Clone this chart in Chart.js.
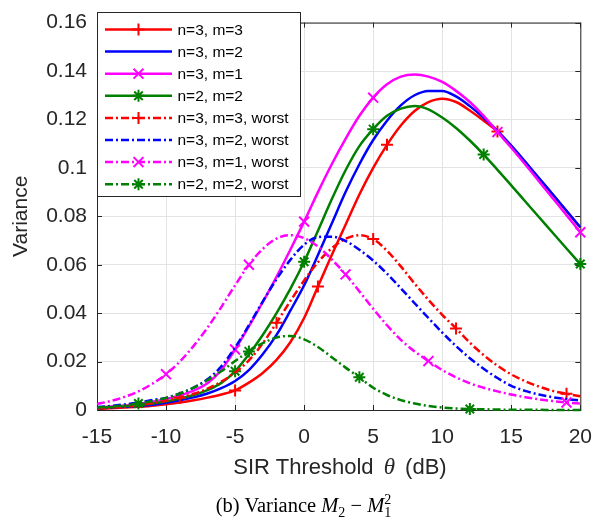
<!DOCTYPE html>
<html>
<head>
<meta charset="utf-8">
<script src="https://cdn.jsdelivr.net/npm/chart.js@4.4.0/dist/chart.umd.min.js"></script>
<style>
  html, body { margin: 0; padding: 0; background: #fff; }
  #wrap { position: relative; width: 607px; height: 521px; }
  #chart { position: absolute; left: 0; top: 0; }
  .xtitle { position: absolute; left: 97px; width: 486px; top: 454px; text-align: center;
    font: 22px "Liberation Sans", Arial, sans-serif; color: #262626; line-height: 26px; }
  .xtitle i { font-family: "Liberation Serif", "Times New Roman", serif; font-size: 23px; margin: 0 4px; }
  .caption { position: absolute; left: 0; width: 607px; top: 492px; text-align: center;
    font: 20.5px "Liberation Serif", "Times New Roman", serif; color: #000; line-height: 26px; }
  .caption i { font-style: italic; }
  .caption .sb { font-size: 14px; position: relative; top: 5px; }
  .caption .stk { display: inline-block; vertical-align: middle; font-size: 14px; line-height: 13px; text-align: left; position: relative; top: -1px; }
</style>
</head>
<body>
<div id="wrap">
  <canvas id="chart" width="607" height="521"></canvas>
  <div class="xtitle">SIR Threshold <i>θ</i> (dB)</div>
  <div class="caption">(b) Variance <i>M</i><span class="sb">2</span> − <i>M</i><span class="stk">2<br>1</span></div>
</div>
<script>
// SIR threshold grid (dB)
const theta = [-15, -14, -13, -12, -11, -10, -9, -8, -7, -6, -5, -4, -3, -2, -1, 0, 1, 2,
  3, 4, 5, 6, 7, 8, 9, 10, 11, 12, 13, 14, 15, 16, 17, 18, 19, 20];

// variance curves
const var33 = [.0005, .0007, .0010, .0013, .0018, .0024, .0031, .0040, .0051, .0064, .0081, .0113, .0153, .0207, .0280, .0380, .0510, .0640,
  .0765, .0890, .1000, .1095, .1175, .1235, .1272, .1286, .1272, .1237, .1195, .1150, .1090, .1025, .0957, .0890, .0822, .0754];
const var32 = [.0007, .0010, .0013, .0017, .0022, .0030, .0040, .0052, .0068, .0090, .0120, .0165, .0230, .0310, .0410, .0515, .0640, .0770,
  .0900, .1015, .1115, .1195, .1258, .1300, .1318, .1318, .1295, .1255, .1207, .1153, .1092, .1026, .0958, .0891, .0823, .0755];
const var31 = [.0010, .0014, .0019, .0026, .0034, .0045, .0060, .0080, .0110, .0165, .0250, .0345, .0445, .0550, .0662, .0778, .0900, .1015,
  .1120, .1215, .1290, .1345, .1377, .1386, .1377, .1355, .1318, .1272, .1215, .1148, .1083, .1015, .0945, .0875, .0805, .0734];
const var22 = [.0008, .0011, .0015, .0020, .0027, .0036, .0047, .0062, .0082, .0112, .0160, .0230, .0310, .0400, .0500, .0612, .0740, .0870,
  .0990, .1090, .1160, .1215, .1245, .1256, .1242, .1208, .1165, .1113, .1055, .0992, .0928, .0862, .0797, .0732, .0667, .0603];
const var33w = [.0007, .0010, .0014, .0020, .0028, .0038, .0051, .0067, .0088, .0117, .0155, .0205, .0275, .0360, .0450, .0535, .0610, .0668,
  .0707, .0722, .0706, .0658, .0593, .0522, .0455, .0393, .0337, .0278, .0227, .0183, .0147, .0119, .0097, .0079, .0067, .0057];
const var32w = [.0012, .0017, .0023, .0031, .0041, .0050, .0068, .0092, .0127, .0180, .0258, .0350, .0448, .0540, .0620, .0683, .0714, .0716,
  .0698, .0662, .0617, .0563, .0503, .0441, .0380, .0320, .0264, .0214, .0170, .0132, .0100, .0079, .0064, .0053, .0045, .0039];
const var31w = [.0025, .0037, .0054, .0077, .0108, .0148, .0200, .0265, .0340, .0425, .0515, .0600, .0665, .0708, .0722, .0710, .0675, .0622,
  .0560, .0490, .0418, .0350, .0290, .0242, .0202, .0165, .0135, .0110, .0092, .0077, .0064, .0053, .0044, .0037, .0031, .0027];
const var22w = [.0010, .0014, .0019, .0027, .0037, .0050, .0068, .0092, .0123, .0160, .0202, .0242, .0276, .0299, .0306, .0292, .0260, .0218,
  .0175, .0135, .0092, .0062, .0041, .0027, .0017, .0010, .0006, .0004, .0003, .0002, .0001, .0001, .0001, 0, 0, 0];

// where the markers sit on each curve
const mark33 = [-5, 1, 6, 14];
const mark31 = [-5, 0, 5, 14, 20];
const mark22 = [-5, 0, 5, 13, 20];
const mark33w = [-9, -2, 5, 11, 19];
const mark31w = [-10, -4, 3, 9, 19];
const mark22w = [-12, -4, 4, 12];

const labels = ['n=3, m=3', 'n=3, m=2', 'n=3, m=1', 'n=2, m=2',
  'n=3, m=3, worst', 'n=3, m=2, worst', 'n=3, m=1, worst', 'n=2, m=2, worst'];

const xTicks = [-15, -10, -5, 0, 5, 10, 15, 20];
const yTicks = [0, 0.02, 0.04, 0.06, 0.08, 0.1, 0.12, 0.14, 0.16];

const FONT = '"Liberation Sans", Arial, sans-serif';
const INK = '#262626';
const dashDot = [8, 3, 2, 3];

function series(label, vals, color, dashed, marks, style, size) {
  return {
    label: label,
    data: theta.map((t, i) => ({ x: t, y: vals[i] })),
    borderColor: color,
    backgroundColor: color,
    borderWidth: 2.5,
    borderDash: dashed ? dashDot : [],
    cubicInterpolationMode: 'monotone',
    pointStyle: style || 'circle',
    pointRadius: ctx => (marks && marks.includes(theta[ctx.dataIndex])) ? size : 0,
    pointBorderColor: color,
    pointBackgroundColor: color,
    pointBorderWidth: 2,
    clip: false,
    mark: style ? { style: style, size: size } : null
  };
}

const datasets = [
  series(labels[0], var33, '#ff0000', false, mark33, 'cross', 6),
  series(labels[1], var32, '#0000ff', false, null, null, 0),
  series(labels[2], var31, '#ff00ff', false, mark31, 'crossRot', 7),
  series(labels[3], var22, '#008000', false, mark22, 'star', 6),
  series(labels[4], var33w, '#ff0000', true, mark33w, 'cross', 6),
  series(labels[5], var32w, '#0000ff', true, null, null, 0),
  series(labels[6], var31w, '#ff00ff', true, mark31w, 'crossRot', 7),
  series(labels[7], var22w, '#008000', true, mark22w, 'star', 6)
];
// later curves on top, like the original plot
datasets.forEach((d, i) => { d.order = datasets.length - i; });

function drawMark(ctx, style, x, y, r) {
  ctx.beginPath();
  if (style === 'cross' || style === 'star') {
    ctx.moveTo(x - r, y); ctx.lineTo(x + r, y);
    ctx.moveTo(x, y - r); ctx.lineTo(x, y + r);
  }
  if (style === 'crossRot' || style === 'star') {
    const d = r * Math.SQRT1_2;
    ctx.moveTo(x - d, y - d); ctx.lineTo(x + d, y + d);
    ctx.moveTo(x - d, y + d); ctx.lineTo(x + d, y - d);
  }
  ctx.stroke();
}

// box round the axes with inward ticks
const framePlugin = {
  id: 'frame',
  beforeDatasetsDraw(chart) {
    const { ctx, chartArea: a, scales } = chart;
    ctx.save();
    ctx.strokeStyle = INK;
    ctx.lineWidth = 1;
    ctx.strokeRect(a.left + 0.5, a.top + 0.5, a.right - a.left, a.bottom - a.top);
    ctx.beginPath();
    xTicks.forEach(v => {
      const px = Math.round(scales.x.getPixelForValue(v)) + 0.5;
      ctx.moveTo(px, a.bottom); ctx.lineTo(px, a.bottom - 5);
      ctx.moveTo(px, a.top); ctx.lineTo(px, a.top + 5);
    });
    yTicks.forEach(v => {
      const py = Math.round(scales.y.getPixelForValue(v)) + 0.5;
      ctx.moveTo(a.left, py); ctx.lineTo(a.left + 5, py);
      ctx.moveTo(a.right, py); ctx.lineTo(a.right - 5, py);
    });
    ctx.stroke();
    ctx.restore();
  }
};

// MATLAB style legend in the top left corner
const legendPlugin = {
  id: 'boxLegend',
  afterDraw(chart) {
    const ctx = chart.ctx;
    const x0 = 97.5, y0 = 12.5, w = 203, h = 184;
    ctx.save();
    ctx.fillStyle = '#fff';
    ctx.fillRect(x0, y0, w, h);
    ctx.strokeStyle = INK;
    ctx.lineWidth = 1;
    ctx.strokeRect(x0, y0, w, h);
    chart.data.datasets.forEach((ds, i) => {
      const y = 29.5 + i * 22.1;
      ctx.strokeStyle = ds.borderColor;
      ctx.lineWidth = 2.5;
      ctx.setLineDash(ds.borderDash);
      ctx.beginPath();
      ctx.moveTo(105, y); ctx.lineTo(172, y);
      ctx.stroke();
      ctx.setLineDash([]);
      ctx.lineWidth = 2;
      if (ds.mark) drawMark(ctx, ds.mark.style, 138.5, y, ds.mark.size);
      ctx.fillStyle = '#000';
      ctx.font = '15.5px ' + FONT;
      ctx.textBaseline = 'middle';
      ctx.textAlign = 'left';
      ctx.fillText(ds.label, 177.5, y + 1);
    });
    ctx.restore();
  }
};

new Chart(document.getElementById('chart'), {
  type: 'line',
  data: { datasets: datasets },
  options: {
    responsive: false,
    animation: false,
    events: [],
    layout: { padding: { left: 0, top: 12, right: 24, bottom: 71 } },
    plugins: { legend: { display: false }, tooltip: { enabled: false } },
    scales: {
      x: {
        type: 'linear',
        min: -15,
        max: 20,
        afterBuildTicks: s => { s.ticks = xTicks.map(v => ({ value: v })); },
        afterFit: s => { s.height = 40; },
        grid: { color: '#e3e3e3', drawTicks: false },
        border: { display: false },
        ticks: { padding: 15, color: INK, font: { family: FONT, size: 21 }, maxRotation: 0,
          callback: v => String(v) }
      },
      y: {
        min: 0,
        max: 0.16,
        afterBuildTicks: s => { s.ticks = yTicks.map(v => ({ value: v })); },
        afterFit: s => { s.width = 97; },
        grid: { color: '#e3e3e3', drawTicks: false },
        border: { display: false },
        ticks: { padding: 10, color: INK, font: { family: FONT, size: 21 },
          callback: v => String(Number(v.toFixed(2))) },
        title: { display: true, text: 'Variance', color: INK, font: { family: FONT, size: 21 },
          padding: { top: 9, bottom: 0 } }
      }
    }
  },
  plugins: [framePlugin, legendPlugin]
});
</script>
</body>
</html>
